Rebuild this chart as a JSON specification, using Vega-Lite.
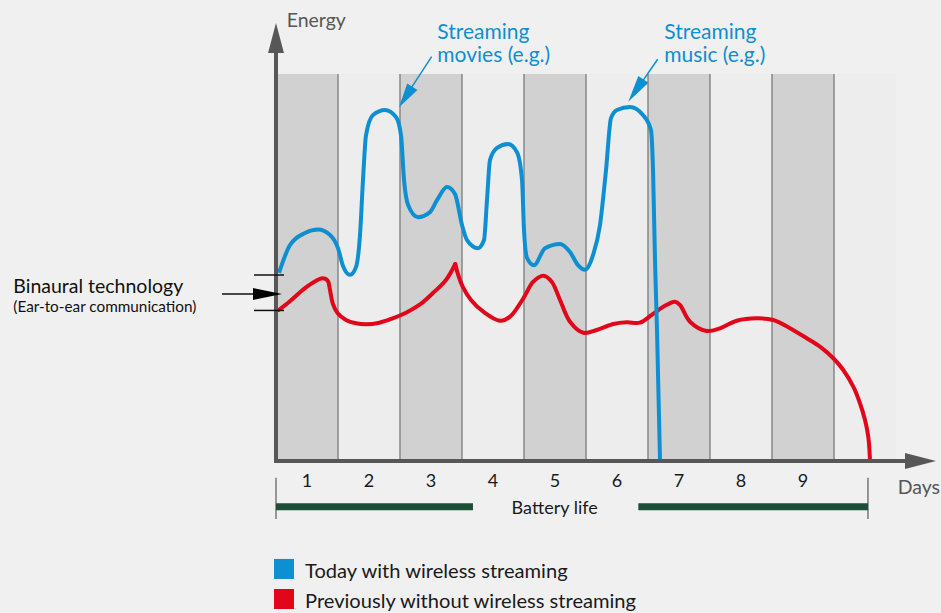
{
  "$schema": "https://vega.github.io/schema/vega-lite/v6.json",
  "width": 941,
  "height": 613,
  "autosize": {"type": "none"},
  "padding": 0,
  "background": "#f0f0f0",
  "config": {"view": {"stroke": null}, "font": "Lato"},
  "datasets": {
    "curves": [
      {"series": "previously", "part": 1, "x": 0.044, "y": 39.02},
      {"series": "previously", "part": 1, "x": 0.215, "y": 41.16},
      {"series": "previously", "part": 1, "x": 0.431, "y": 44.19},
      {"series": "previously", "part": 1, "x": 0.592, "y": 46.07},
      {"series": "previously", "part": 1, "x": 0.753, "y": 47.21},
      {"series": "previously", "part": 1, "x": 0.834, "y": 46.59},
      {"series": "previously", "part": 1, "x": 0.871, "y": 44.19},
      {"series": "previously", "part": 1, "x": 0.915, "y": 40.75},
      {"series": "previously", "part": 1, "x": 0.995, "y": 38.17},
      {"series": "previously", "part": 1, "x": 1.129, "y": 36.43},
      {"series": "previously", "part": 1, "x": 1.29, "y": 35.58},
      {"series": "previously", "part": 1, "x": 1.452, "y": 35.32},
      {"series": "previously", "part": 1, "x": 1.666, "y": 35.74},
      {"series": "previously", "part": 1, "x": 1.882, "y": 36.87},
      {"series": "previously", "part": 1, "x": 2.097, "y": 38.32},
      {"series": "previously", "part": 1, "x": 2.311, "y": 40.31},
      {"series": "previously", "part": 1, "x": 2.527, "y": 43.33},
      {"series": "previously", "part": 1, "x": 2.742, "y": 46.77},
      {"series": "previously", "part": 1, "x": 2.892, "y": 50.9},
      {"series": "previously", "part": 2, "x": 2.892, "y": 50.9},
      {"series": "previously", "part": 2, "x": 2.931, "y": 48.5},
      {"series": "previously", "part": 2, "x": 3.011, "y": 45.04},
      {"series": "previously", "part": 2, "x": 3.145, "y": 41.6},
      {"series": "previously", "part": 2, "x": 3.344, "y": 38.58},
      {"series": "previously", "part": 2, "x": 3.613, "y": 36.25},
      {"series": "previously", "part": 2, "x": 3.774, "y": 37.29},
      {"series": "previously", "part": 2, "x": 3.989, "y": 42.04},
      {"series": "previously", "part": 2, "x": 4.15, "y": 46.33},
      {"series": "previously", "part": 2, "x": 4.311, "y": 47.88},
      {"series": "previously", "part": 2, "x": 4.447, "y": 46.33},
      {"series": "previously", "part": 2, "x": 4.581, "y": 41.6},
      {"series": "previously", "part": 2, "x": 4.742, "y": 36.0},
      {"series": "previously", "part": 2, "x": 4.956, "y": 33.15},
      {"series": "previously", "part": 2, "x": 5.173, "y": 33.85},
      {"series": "previously", "part": 2, "x": 5.44, "y": 35.4},
      {"series": "previously", "part": 2, "x": 5.656, "y": 35.84},
      {"series": "previously", "part": 2, "x": 5.871, "y": 35.74},
      {"series": "previously", "part": 2, "x": 6.06, "y": 37.73},
      {"series": "previously", "part": 2, "x": 6.247, "y": 39.87},
      {"series": "previously", "part": 2, "x": 6.435, "y": 41.16},
      {"series": "previously", "part": 2, "x": 6.516, "y": 40.31},
      {"series": "previously", "part": 2, "x": 6.677, "y": 35.99},
      {"series": "previously", "part": 2, "x": 6.947, "y": 33.59},
      {"series": "previously", "part": 2, "x": 7.161, "y": 34.29},
      {"series": "previously", "part": 2, "x": 7.431, "y": 36.25},
      {"series": "previously", "part": 2, "x": 7.753, "y": 36.87},
      {"series": "previously", "part": 2, "x": 8.021, "y": 36.43},
      {"series": "previously", "part": 2, "x": 8.29, "y": 34.29},
      {"series": "previously", "part": 2, "x": 8.56, "y": 31.71},
      {"series": "previously", "part": 2, "x": 8.774, "y": 29.54},
      {"series": "previously", "part": 2, "x": 8.989, "y": 26.54},
      {"series": "previously", "part": 2, "x": 9.15, "y": 23.51},
      {"series": "previously", "part": 2, "x": 9.311, "y": 19.2},
      {"series": "previously", "part": 2, "x": 9.419, "y": 14.91},
      {"series": "previously", "part": 2, "x": 9.5, "y": 10.59},
      {"series": "previously", "part": 2, "x": 9.553, "y": 6.28},
      {"series": "previously", "part": 2, "x": 9.581, "y": 0},
      {"series": "today", "part": 3, "x": 0.048, "y": 48.6},
      {"series": "today", "part": 3, "x": 0.226, "y": 55.8},
      {"series": "today", "part": 3, "x": 0.468, "y": 58.9},
      {"series": "today", "part": 3, "x": 0.677, "y": 59.8},
      {"series": "today", "part": 3, "x": 0.871, "y": 58.4},
      {"series": "today", "part": 3, "x": 1.0, "y": 55.0},
      {"series": "today", "part": 3, "x": 1.081, "y": 50.4},
      {"series": "today", "part": 3, "x": 1.194, "y": 48.1},
      {"series": "today", "part": 3, "x": 1.29, "y": 50.1},
      {"series": "today", "part": 3, "x": 1.355, "y": 58.4},
      {"series": "today", "part": 3, "x": 1.403, "y": 72.6},
      {"series": "today", "part": 3, "x": 1.452, "y": 84.2},
      {"series": "today", "part": 3, "x": 1.565, "y": 89.4},
      {"series": "today", "part": 3, "x": 1.758, "y": 90.7},
      {"series": "today", "part": 3, "x": 1.935, "y": 88.9},
      {"series": "today", "part": 3, "x": 2.016, "y": 84.2},
      {"series": "today", "part": 3, "x": 2.065, "y": 72.6},
      {"series": "today", "part": 3, "x": 2.129, "y": 66.2},
      {"series": "today", "part": 3, "x": 2.29, "y": 63.0},
      {"series": "today", "part": 3, "x": 2.484, "y": 64.3},
      {"series": "today", "part": 3, "x": 2.597, "y": 67.4},
      {"series": "today", "part": 3, "x": 2.758, "y": 70.8},
      {"series": "today", "part": 3, "x": 2.887, "y": 69.0},
      {"series": "today", "part": 3, "x": 3.0, "y": 61.0},
      {"series": "today", "part": 3, "x": 3.081, "y": 57.1},
      {"series": "today", "part": 3, "x": 3.258, "y": 55.0},
      {"series": "today", "part": 3, "x": 3.355, "y": 57.1},
      {"series": "today", "part": 3, "x": 3.403, "y": 67.4},
      {"series": "today", "part": 3, "x": 3.452, "y": 77.8},
      {"series": "today", "part": 3, "x": 3.565, "y": 80.9},
      {"series": "today", "part": 3, "x": 3.742, "y": 81.9},
      {"series": "today", "part": 3, "x": 3.887, "y": 79.8},
      {"series": "today", "part": 3, "x": 3.968, "y": 72.6},
      {"series": "today", "part": 3, "x": 4.0, "y": 59.7},
      {"series": "today", "part": 3, "x": 4.048, "y": 52.5},
      {"series": "today", "part": 3, "x": 4.161, "y": 50.6},
      {"series": "today", "part": 3, "x": 4.339, "y": 55.0},
      {"series": "today", "part": 3, "x": 4.581, "y": 56.1},
      {"series": "today", "part": 3, "x": 4.742, "y": 54.0},
      {"series": "today", "part": 3, "x": 4.871, "y": 50.6},
      {"series": "today", "part": 3, "x": 4.984, "y": 49.4},
      {"series": "today", "part": 3, "x": 5.113, "y": 53.2},
      {"series": "today", "part": 3, "x": 5.226, "y": 61.0},
      {"series": "today", "part": 3, "x": 5.323, "y": 75.2},
      {"series": "today", "part": 3, "x": 5.403, "y": 88.6},
      {"series": "today", "part": 3, "x": 5.5, "y": 90.7},
      {"series": "today", "part": 3, "x": 5.71, "y": 91.5},
      {"series": "today", "part": 3, "x": 5.919, "y": 89.4},
      {"series": "today", "part": 3, "x": 6.048, "y": 85.5},
      {"series": "today", "part": 3, "x": 6.081, "y": 75.2},
      {"series": "today", "part": 3, "x": 6.113, "y": 51.9},
      {"series": "today", "part": 3, "x": 6.145, "y": 33.9},
      {"series": "today", "part": 3, "x": 6.194, "y": 0}
    ],
    "areas": [
      {"kind": "plot", "x": 0, "x2": 10, "y": 0, "y2": 100},
      {"kind": "stripe", "x": 0, "x2": 1, "y": 0, "y2": 100},
      {"kind": "stripe", "x": 2, "x2": 3, "y": 0, "y2": 100},
      {"kind": "stripe", "x": 4, "x2": 5, "y": 0, "y2": 100},
      {"kind": "stripe", "x": 6, "x2": 7, "y": 0, "y2": 100},
      {"kind": "stripe", "x": 8, "x2": 9, "y": 0, "y2": 100}
    ],
    "segments": [
      {"kind": "axis", "x": 0, "y": -0.3, "x2": 0, "y2": 106.2},
      {"kind": "axis", "x": -0.03, "y": 0, "x2": 10.2, "y2": 0},
      {"kind": "divider", "x": 1, "y": 0, "x2": 1, "y2": 100},
      {"kind": "divider", "x": 2, "y": 0, "x2": 2, "y2": 100},
      {"kind": "divider", "x": 3, "y": 0, "x2": 3, "y2": 100},
      {"kind": "divider", "x": 4, "y": 0, "x2": 4, "y2": 100},
      {"kind": "divider", "x": 5, "y": 0, "x2": 5, "y2": 100},
      {"kind": "divider", "x": 6, "y": 0, "x2": 6, "y2": 100},
      {"kind": "divider", "x": 7, "y": 0, "x2": 7, "y2": 100},
      {"kind": "divider", "x": 8, "y": 0, "x2": 8, "y2": 100},
      {"kind": "divider", "x": 9, "y": 0, "x2": 9, "y2": 100},
      {"kind": "black", "x": -0.355, "y": 48.06, "x2": 0.129, "y2": 48.06},
      {"kind": "black", "x": -0.355, "y": 38.9, "x2": 0.129, "y2": 38.9},
      {"kind": "black", "x": -0.871, "y": 43.15, "x2": -0.3, "y2": 43.15},
      {"kind": "tick", "x": 0, "y": -4.31, "x2": 0, "y2": -14.99},
      {"kind": "tick", "x": 9.548, "y": -4.31, "x2": 9.548, "y2": -14.99},
      {"kind": "green", "x": 0, "y": -11.8, "x2": 3.177, "y2": -11.8},
      {"kind": "green", "x": 5.844, "y": -11.8, "x2": 9.548, "y2": -11.8},
      {"kind": "blue", "x": 2.511, "y": 104.47, "x2": 2.129, "y2": 95.1},
      {"kind": "blue", "x": 6.156, "y": 103.8, "x2": 5.871, "y2": 97.2}
    ],
    "heads": [
      {"kind": "yaxis", "x": 0, "y": 113.18},
      {"kind": "xaxis", "x": 10.645, "y": 0},
      {"kind": "binaural", "x": 0.097, "y": 43.15},
      {"kind": "movies", "x": 1.984, "y": 91.4},
      {"kind": "music", "x": 5.682, "y": 92.8}
    ],
    "labels": [
      {"label": "Energy", "x": 0.172, "y": 112.07, "role": "axis"},
      {"label": "Days", "x": 10.027, "y": -8.6, "role": "axis"},
      {"label": "1", "x": 0.5, "y": -6.64, "role": "day"},
      {"label": "2", "x": 1.5, "y": -6.64, "role": "day"},
      {"label": "3", "x": 2.5, "y": -6.64, "role": "day"},
      {"label": "4", "x": 3.5, "y": -6.64, "role": "day"},
      {"label": "5", "x": 4.5, "y": -6.64, "role": "day"},
      {"label": "6", "x": 5.5, "y": -6.64, "role": "day"},
      {"label": "7", "x": 6.5, "y": -6.64, "role": "day"},
      {"label": "8", "x": 7.5, "y": -6.64, "role": "day"},
      {"label": "9", "x": 8.5, "y": -6.64, "role": "day"},
      {"label": "Battery life", "x": 4.495, "y": -13.7, "role": "day"},
      {"label": "Streaming", "x": 2.602, "y": 109.04, "role": "stream"},
      {"label": "movies (e.g.)", "x": 2.602, "y": 103.18, "role": "stream"},
      {"label": "Streaming", "x": 6.263, "y": 109.04, "role": "stream"},
      {"label": "music (e.g.)", "x": 6.263, "y": 103.18, "role": "stream"},
      {"label": "Binaural technology", "x": -4.237, "y": 43.33, "role": "binaural"},
      {"label": "(Ear-to-ear communication)", "x": -4.237, "y": 38.5, "role": "sub"},
      {"label": "Today with wireless streaming", "x": 0.468, "y": -30.3, "role": "legend"},
      {"label": "Previously without wireless streaming", "x": 0.468, "y": -37.9, "role": "legend"}
    ],
    "keys": [
      {"series": "today", "x": 0.129, "y": -27.9},
      {"series": "previously", "x": 0.129, "y": -35.66}
    ]
  },
  "encoding": {
    "x": {"field": "x", "type": "quantitative", "scale": {"domain": [-4.4516, 10.7258], "nice": false, "zero": false}, "axis": null},
    "y": {"field": "y", "type": "quantitative", "scale": {"domain": [-39.28, 119.12], "nice": false, "zero": false}, "axis": null}
  },
  "layer": [
    {
      "data": {"name": "areas"},
      "transform": [{"filter": "datum.kind === 'plot'"}],
      "mark": {"type": "rect", "color": "#ededed"},
      "encoding": {"x2": {"field": "x2"}, "y2": {"field": "y2"}}
    },
    {
      "data": {"name": "areas"},
      "transform": [{"filter": "datum.kind === 'stripe'"}],
      "mark": {"type": "rect", "color": "#d1d1d1"},
      "encoding": {"x2": {"field": "x2"}, "y2": {"field": "y2"}}
    },
    {
      "data": {"name": "segments"},
      "transform": [{"filter": "datum.kind === 'divider'"}],
      "mark": {"type": "rule", "color": "#7a7a7a", "strokeWidth": 1.3},
      "encoding": {"x2": {"field": "x2"}, "y2": {"field": "y2"}}
    },
    {
      "data": {"name": "curves"},
      "transform": [{"filter": "datum.series === 'previously'"}],
      "mark": {"type": "line", "interpolate": "catmull-rom", "strokeWidth": 4, "strokeCap": "round"},
      "encoding": {
        "color": {"field": "series", "type": "nominal", "scale": {"domain": ["today", "previously"], "range": ["#0d8fd1", "#e2061a"]}, "legend": null},
        "detail": {"field": "part", "type": "nominal"}
      }
    },
    {
      "data": {"name": "curves"},
      "transform": [{"filter": "datum.series === 'today'"}],
      "mark": {"type": "line", "interpolate": "monotone", "strokeWidth": 4},
      "encoding": {
        "color": {"field": "series", "type": "nominal", "scale": {"domain": ["today", "previously"], "range": ["#0d8fd1", "#e2061a"]}, "legend": null}
      }
    },
    {
      "data": {"name": "segments"},
      "transform": [{"filter": "datum.kind === 'axis'"}],
      "mark": {"type": "rule", "color": "#575757", "strokeWidth": 4},
      "encoding": {"x2": {"field": "x2"}, "y2": {"field": "y2"}}
    },
    {
      "data": {"name": "segments"},
      "transform": [{"filter": "datum.kind === 'black'"}],
      "mark": {"type": "rule", "color": "#111111", "strokeWidth": 1.5},
      "encoding": {"x2": {"field": "x2"}, "y2": {"field": "y2"}}
    },
    {
      "data": {"name": "segments"},
      "transform": [{"filter": "datum.kind === 'tick'"}],
      "mark": {"type": "rule", "color": "#666666", "strokeWidth": 1.3},
      "encoding": {"x2": {"field": "x2"}, "y2": {"field": "y2"}}
    },
    {
      "data": {"name": "segments"},
      "transform": [{"filter": "datum.kind === 'green'"}],
      "mark": {"type": "rule", "color": "#1e4e37", "strokeWidth": 7, "strokeCap": "butt"},
      "encoding": {"x2": {"field": "x2"}, "y2": {"field": "y2"}}
    },
    {
      "data": {"name": "segments"},
      "transform": [{"filter": "datum.kind === 'blue'"}],
      "mark": {"type": "rule", "color": "#0d8fd1", "strokeWidth": 1.5},
      "encoding": {"x2": {"field": "x2"}, "y2": {"field": "y2"}}
    },
    {
      "data": {"name": "heads"},
      "transform": [{"filter": "datum.kind === 'yaxis'"}],
      "mark": {"type": "point", "shape": "M0,0L-0.53,2L0.53,2Z", "filled": true, "opacity": 1, "color": "#575757", "size": 900, "angle": 0}
    },
    {
      "data": {"name": "heads"},
      "transform": [{"filter": "datum.kind === 'xaxis'"}],
      "mark": {"type": "point", "shape": "M0,0L-0.52,2L0.52,2Z", "filled": true, "opacity": 1, "color": "#575757", "size": 961, "angle": 90}
    },
    {
      "data": {"name": "heads"},
      "transform": [{"filter": "datum.kind === 'binaural'"}],
      "mark": {"type": "point", "shape": "M0,0L-0.41,2L0.41,2Z", "filled": true, "opacity": 1, "color": "#000000", "size": 841, "angle": 90}
    },
    {
      "data": {"name": "heads"},
      "transform": [{"filter": "datum.kind === 'movies'"}],
      "mark": {"type": "point", "shape": "M0,0L-0.5,2L0.5,2Z", "filled": true, "opacity": 1, "color": "#0d8fd1", "size": 600, "angle": 213}
    },
    {
      "data": {"name": "heads"},
      "transform": [{"filter": "datum.kind === 'music'"}],
      "mark": {"type": "point", "shape": "M0,0L-0.45,2L0.45,2Z", "filled": true, "opacity": 1, "color": "#0d8fd1", "size": 729, "angle": 214}
    },
    {
      "data": {"name": "keys"},
      "mark": {"type": "point", "shape": "square", "filled": true, "opacity": 1, "size": 400},
      "encoding": {
        "color": {"field": "series", "type": "nominal", "scale": {"domain": ["today", "previously"], "range": ["#0d8fd1", "#e2061a"]}, "legend": null}
      }
    },
    {
      "data": {"name": "labels"},
      "transform": [{"filter": "datum.role === 'axis'"}],
      "mark": {"type": "text", "align": "left", "baseline": "alphabetic", "fontSize": 19.5, "color": "#575757"},
      "encoding": {"text": {"field": "label"}}
    },
    {
      "data": {"name": "labels"},
      "transform": [{"filter": "datum.role === 'day'"}],
      "mark": {"type": "text", "align": "center", "baseline": "alphabetic", "fontSize": 18, "color": "#1a1a1a"},
      "encoding": {"text": {"field": "label"}}
    },
    {
      "data": {"name": "labels"},
      "transform": [{"filter": "datum.role === 'stream'"}],
      "mark": {"type": "text", "align": "left", "baseline": "alphabetic", "fontSize": 21, "color": "#0d8fd1"},
      "encoding": {"text": {"field": "label"}}
    },
    {
      "data": {"name": "labels"},
      "transform": [{"filter": "datum.role === 'binaural'"}],
      "mark": {"type": "text", "align": "left", "baseline": "alphabetic", "fontSize": 19.5, "color": "#111111"},
      "encoding": {"text": {"field": "label"}}
    },
    {
      "data": {"name": "labels"},
      "transform": [{"filter": "datum.role === 'sub'"}],
      "mark": {"type": "text", "align": "left", "baseline": "alphabetic", "fontSize": 15.3, "color": "#111111"},
      "encoding": {"text": {"field": "label"}}
    },
    {
      "data": {"name": "labels"},
      "transform": [{"filter": "datum.role === 'legend'"}],
      "mark": {"type": "text", "align": "left", "baseline": "alphabetic", "fontSize": 20.1, "color": "#1a1a1a"},
      "encoding": {"text": {"field": "label"}}
    }
  ]
}
